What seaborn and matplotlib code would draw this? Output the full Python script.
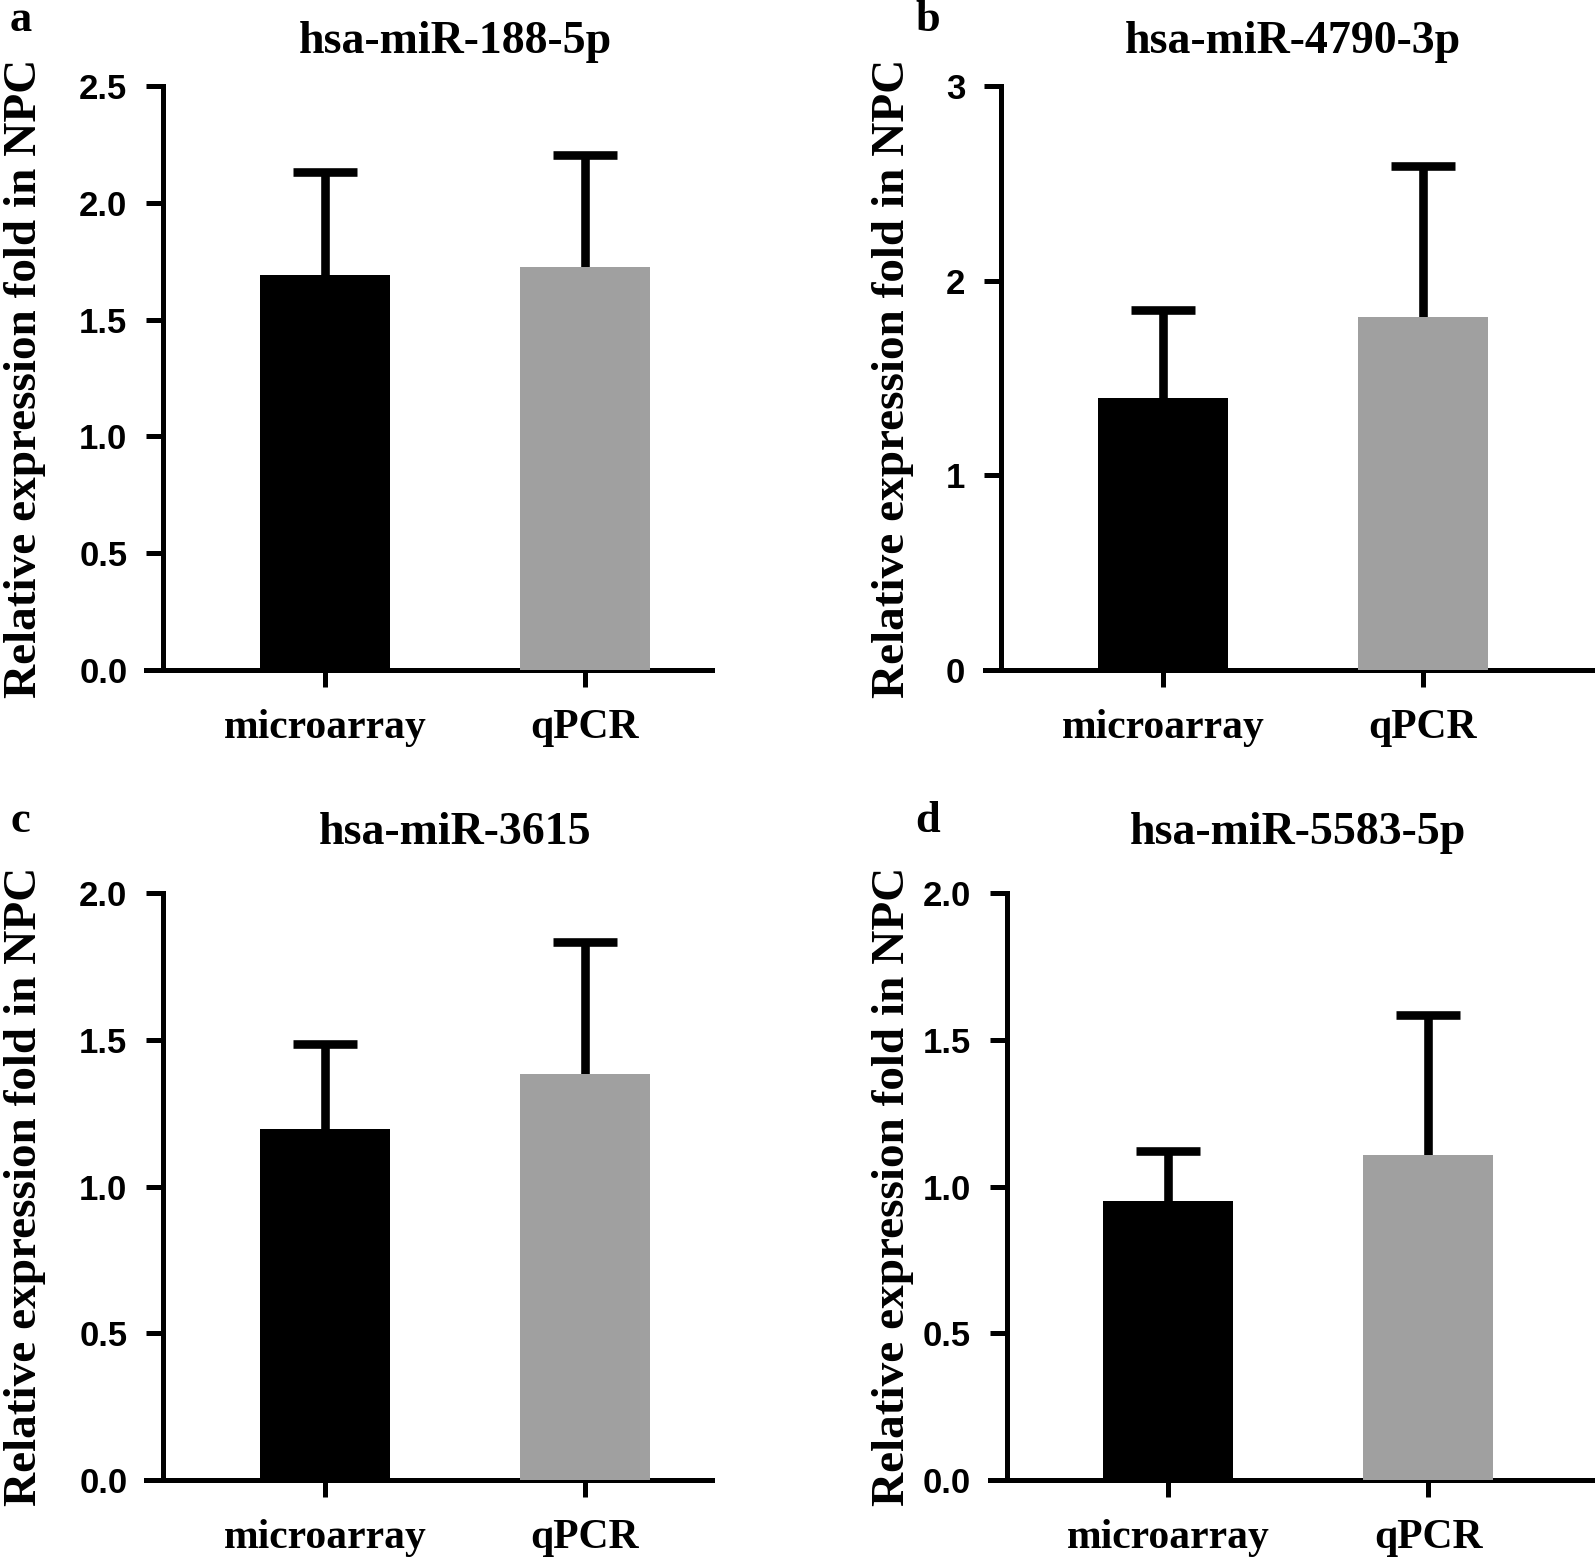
import numpy as np
import matplotlib
matplotlib.use("Agg")
import matplotlib.pyplot as plt
import seaborn as sns

# data (bar = mean, upper whisker = mean + error)
categories = ["microarray", "qPCR"]
panel_letters = ["a", "b", "c", "d"]
mirnas = ["hsa-miR-188-5p", "hsa-miR-4790-3p", "hsa-miR-3615", "hsa-miR-5583-5p"]

mean_188 = [1.69, 1.725]
err_188 = [0.44, 0.48]
mean_4790 = [1.397, 1.814]
err_4790 = [0.453, 0.776]
mean_3615 = [1.195, 1.383]
err_3615 = [0.291, 0.449]
mean_5583 = [0.950, 1.108]
err_5583 = [0.170, 0.478]

yticks_188 = [0.0, 0.5, 1.0, 1.5, 2.0, 2.5]
yticks_4790 = [0, 1, 2, 3]
yticks_3615 = [0.0, 0.5, 1.0, 1.5, 2.0]
yticks_5583 = [0.0, 0.5, 1.0, 1.5, 2.0]

bar_colors = ["#000000", "#a0a0a0"]

sns.set_style("ticks")
plt.rcParams["font.family"] = ["Liberation Serif", "DejaVu Serif"]
plt.rcParams["font.weight"] = "bold"
for key in ["text.color", "axes.labelcolor", "xtick.color", "ytick.color",
            "xtick.labelcolor", "ytick.labelcolor"]:
    plt.rcParams[key] = "black"

W, H = 1595, 1559
fig = plt.figure(figsize=(W / 100, H / 100), dpi=100)

# axes rectangles in pixels: left, right, x-axis y, top-of-yaxis y
rects = [
    (146.5, 712, 670, 86),
    (984.5, 1592, 670, 86),
    (146.5, 712, 1480, 893),
    (990, 1592, 1480, 893),
]
xlims = [(-0.686, 1.488), (-0.686, 1.650), (-0.686, 1.488), (-0.686, 1.630)]
title_offsets = [24, 24, 35, 35]
letter_pos = [(10, 31), (915, 31), (10, 832), (915, 832)]
ylabel_x = [46, 914, 46, 914]

panels = [
    (mean_188, err_188, yticks_188, "{:.1f}"),
    (mean_4790, err_4790, yticks_4790, "{:d}"),
    (mean_3615, err_3615, yticks_3615, "{:.1f}"),
    (mean_5583, err_5583, yticks_5583, "{:.1f}"),
]

lw = 3.6
for k, (means, errs, yticks, fmt) in enumerate(panels):
    l, r, yb, yt = rects[k]
    ax = fig.add_axes([l / W, 1 - yb / H, (r - l) / W, (yb - yt) / H])

    sns.barplot(x=categories, y=means, hue=categories, palette=bar_colors,
                width=0.5, errorbar=None, legend=False, saturation=1,
                edgecolor="none", zorder=3, ax=ax)
    # one-sided (upper) error bars
    _, caps, _ = ax.errorbar(x=np.arange(len(categories)), y=means,
                             yerr=[np.zeros(len(errs)), errs], fmt="none",
                             ecolor="black", elinewidth=6.2, capsize=23,
                             capthick=6.2, zorder=1)
    for c in caps:
        if np.allclose(c.get_ydata(), means):
            c.set_visible(False)

    # spines first: moving a spine resets the ticks
    for s in ["top", "right"]:
        ax.spines[s].set_visible(False)
    ax.spines["left"].set_position(("data", -0.621))
    ax.spines["left"].set_bounds(yticks[0], yticks[-1])
    for s in ["left", "bottom"]:
        ax.spines[s].set_linewidth(lw)
        ax.spines[s].set_color("black")
        ax.spines[s].set_capstyle("projecting")

    ax.set_xlim(*xlims[k])
    ax.set_ylim(yticks[0], yticks[-1])
    ax.tick_params(axis="both", direction="out", length=12, width=lw,
                   color="black", labelcolor="black")
    ax.tick_params(axis="y", pad=14)
    ax.tick_params(axis="x", pad=16)
    ax.set_yticks(yticks)
    ax.set_yticklabels([fmt.format(t) for t in yticks],
                       family="Liberation Sans", fontweight="bold", fontsize=25)
    ax.set_xticks(range(len(categories)))
    ax.set_xticklabels(categories, fontweight="bold", fontsize=30)

    ax.set_ylabel("Relative expression fold in NPC", fontweight="bold",
                  fontsize=34, color="black")
    ax.yaxis.set_label_coords((ylabel_x[k] - l) / (r - l), 0.5)

    ax.annotate(mirnas[k], xy=(0.5, 1), xycoords=("data", "axes fraction"),
                xytext=(0, title_offsets[k]), textcoords="offset points",
                ha="center", va="baseline", fontweight="bold", fontsize=33)

    lx, ly = letter_pos[k]
    fig.text(lx / W, 1 - ly / H, panel_letters[k], ha="left", va="baseline",
             fontweight="bold", fontsize=32)

fig.savefig("out.png", dpi=100, facecolor="white")
